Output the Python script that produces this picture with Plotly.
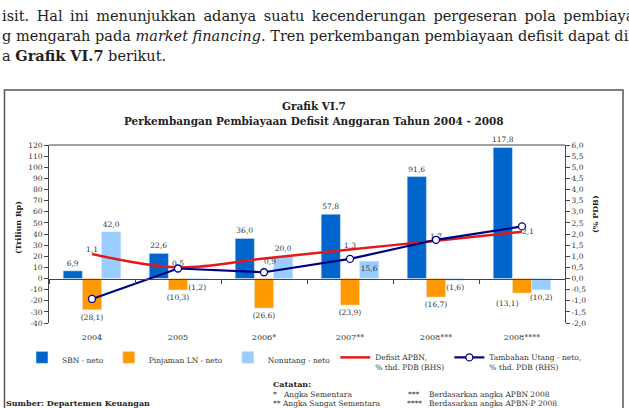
import plotly.graph_objects as go

# ---------------- data ----------------
categories = ["2004", "2005", "2006*", "2007**", "2008***", "2008****"]
sbn_neto = [6.9, 22.6, 36.0, 57.8, 91.6, 117.8]
pinjaman_ln_neto = [-28.1, -10.3, -26.6, -23.9, -16.7, -13.1]
nonutang_neto = [42.0, -1.2, 20.0, 15.6, -1.6, -10.2]
defisit_apbn_pdb = [1.1, 0.5, 0.9, 1.3, 1.7, 2.1]
tambahan_utang_pdb = [-0.92, 0.45, 0.28, 0.88, 1.74, 2.34]

left_tickvals = [-40, -30, -20, -10, 0, 10, 20, 30, 40, 50, 60, 70, 80, 90, 100, 110, 120]
right_tickvals = [-2.0, -1.5, -1.0, -0.5, 0.0, 0.5, 1.0, 1.5, 2.0, 2.5, 3.0, 3.5, 4.0, 4.5, 5.0, 5.5, 6.0]
left_ticktext = [str(v) for v in left_tickvals]
right_ticktext = [f"{v:.1f}".replace(".", ",") for v in right_tickvals]


def fmt(v):
    s = f"{abs(v):.1f}".replace(".", ",")
    return f"({s})" if v < 0 else s


FONT = "DejaVu Serif"
TXT = "#333333"

# plot-area pixel geometry (for positioning text/decoration only)
L, R, T, B = 49, 565, 145, 323


def xp(px):
    return (px - L) / (R - L)


def yp(py):
    return (B - py) / (B - T)


fig = go.Figure()

bar_font = dict(family=FONT, size=7.5, color=TXT)
pin_pos = ["outside"] * 5 + ["none"]  # last label placed as a shifted annotation below
fig.add_trace(go.Bar(
    x=categories, y=sbn_neto, name="SBN - neto", marker_color="#0066CC",
    text=[fmt(v) for v in sbn_neto], textposition="outside", textfont=bar_font,
    constraintext="none", cliponaxis=False,
))
fig.add_trace(go.Bar(
    x=categories, y=pinjaman_ln_neto, name="Pinjaman LN - neto", marker_color="#FF9900",
    text=[fmt(v) for v in pinjaman_ln_neto], textposition=pin_pos, textfont=bar_font,
    constraintext="none", cliponaxis=False,
))
fig.add_trace(go.Bar(
    x=categories, y=nonutang_neto, name="Nonutang - neto", marker_color="#99CCFF",
    text=[fmt(v) for v in nonutang_neto],
    textposition=["outside", "outside", "outside", "inside", "outside", "outside"],
    insidetextanchor="end", textfont=bar_font, insidetextfont=bar_font,
    constraintext="none", cliponaxis=False,
))
fig.add_trace(go.Scatter(
    x=categories, y=defisit_apbn_pdb, name="Defisit APBN,<br>% thd. PDB (RHS)",
    mode="lines+text", line=dict(color="#E31A1C", width=2.5, shape="spline"),
    text=[fmt(v) for v in defisit_apbn_pdb],
    textposition=["top center", "top center", "bottom right", "top center", "top center", "middle right"],
    textfont=bar_font, xaxis="x2", yaxis="y2", cliponaxis=False,
))
fig.add_trace(go.Scatter(
    x=categories, y=tambahan_utang_pdb, name="Tambahan Utang - neto,<br>% thd. PDB (RHS)",
    mode="lines+markers", line=dict(color="#000080", width=2.2),
    marker=dict(symbol="circle", size=7, color="white", line=dict(color="#000080", width=1.3)),
    xaxis="x2", yaxis="y2", cliponaxis=False,
))

annotations = []


def ann(px, py, text, size, xanchor="left", bold=False, color="#222222", angle=0, family=FONT):
    annotations.append(dict(
        x=xp(px), y=yp(py), xref="paper", yref="paper", text=f"<b>{text}</b>" if bold else text,
        showarrow=False, xanchor=xanchor, yanchor="middle", textangle=angle,
        font=dict(family=family, size=size, color=color),
    ))


# last Pinjaman LN label, offset to the left of its bar as in the source
annotations.append(dict(
    x=categories[5], y=pinjaman_ln_neto[5], xref="x", yref="y", text=fmt(pinjaman_ln_neto[5]),
    showarrow=False, xanchor="center", yanchor="top", xshift=-15, yshift=-4,
    font=bar_font,
))

# body text above the chart box (justified line: widened word gaps)
jsp = " \u2009"
line2 = jsp.join("isit. Hal ini menunjukkan adanya suatu kecenderungan pergeseran pola pembiayaan".split(" "))
ann(0, 16, line2, 14.5)
ann(0, 35.5, "g mengarah pada <i>market financing</i>. Tren perkembangan pembiayaan defisit dapat dilihat", 14.5)
ann(0, 55.5, "a <b>Grafik VI.7</b> berikut.", 14.5)

# chart titles
ann(314, 106, "Grafik VI.7", 10.5, xanchor="center", bold=True, color="#222222")
ann(314, 121, "Perkembangan Pembiayaan Defisit Anggaran Tahun 2004 - 2008", 10.5,
    xanchor="center", bold=True, color="#222222")

# axis titles
ann(18, 228, "(Triliun Rp)", 8, xanchor="center", bold=True, angle=-90)
ann(595, 214, "(% PDB)", 8, xanchor="center", bold=True, angle=-90)

# notes
ann(271, 384, "Catatan:", 8, bold=True)
ann(271, 394, "*   Angka Sementara", 7.5, color=TXT)
ann(271, 403, "** Angka Sangat Sementara", 7.5, color=TXT)
ann(422, 394, "***", 7.5, xanchor="right", color=TXT)
ann(427, 394, "Berdasarkan angka APBN 2008", 7.5, color=TXT)
ann(424, 403, "****", 7.5, xanchor="right", color=TXT)
ann(427, 403, "Berdasarkan angka APBN-P 2008", 7.5, color=TXT)
ann(4, 402.5, "Sumber: Departemen Keuangan", 8, bold=True)

shapes = [
    # chart frame
    dict(type="rect", xref="paper", yref="paper", x0=xp(4.5), x1=xp(623), y0=yp(440), y1=yp(90),
         line=dict(color="#555555", width=1.5), fillcolor="rgba(0,0,0,0)", layer="below"),
    # top border of the plot area
    dict(type="line", xref="paper", yref="paper", x0=0, x1=1, y0=1, y1=1,
         line=dict(color="#444444", width=1)),
]

tick_font = dict(family=FONT, size=7.5, color=TXT)

fig.update_layout(
    width=629, height=408,
    margin=dict(l=L, r=629 - R, t=T, b=408 - B),
    paper_bgcolor="white", plot_bgcolor="white",
    barmode="group", bargap=0.33, bargroupgap=0,
    font=dict(family=FONT, size=7.5, color=TXT),
    xaxis=dict(type="category", categoryorder="array", categoryarray=categories,
               range=[-0.5, 5.5], showline=False, showgrid=False, zeroline=False,
               ticks="outside", ticklen=6, tickcolor="rgba(0,0,0,0)", tickfont=dict(family=FONT, size=8, color=TXT)),
    xaxis2=dict(type="category", categoryorder="array", categoryarray=categories,
                range=[-0.5, 5.5], overlaying="x", anchor="free", position=0.25,
                showline=True, linecolor="#444444", linewidth=1, showgrid=False, zeroline=False,
                ticks="outside", tickson="boundaries", ticklen=4, tickcolor="#444444",
                showticklabels=False),
    yaxis=dict(range=[-40, 120], tickvals=left_tickvals, ticktext=left_ticktext,
               showline=True, linecolor="#444444", linewidth=1, showgrid=False, zeroline=False,
               ticks="outside", ticklen=4, tickcolor="#444444", tickfont=tick_font),
    yaxis2=dict(range=[-2, 6], tickvals=right_tickvals, ticktext=right_ticktext,
                overlaying="y", side="right", anchor="x2",
                showline=True, linecolor="#444444", linewidth=1, showgrid=False, zeroline=False,
                ticks="outside", ticklen=4, tickcolor="#444444", tickfont=tick_font),
    showlegend=True,
    legend=dict(orientation="h", x=xp(22), y=yp(346), xanchor="left", yanchor="top",
                font=dict(family=FONT, size=7.5, color=TXT), bgcolor="rgba(0,0,0,0)",
                itemwidth=30, valign="top", traceorder="normal"),
    annotations=annotations,
    shapes=shapes,
)

fig.write_html("out.html")
